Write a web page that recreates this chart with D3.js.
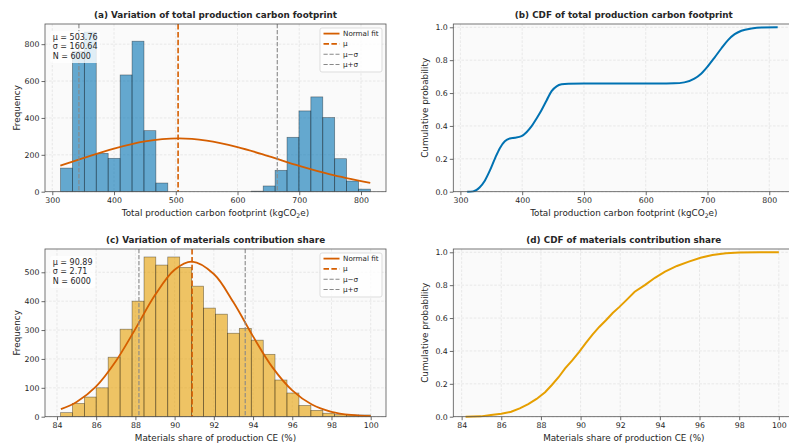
<!DOCTYPE html>
<html>
<head>
<meta charset="utf-8">
<script src="https://cdn.jsdelivr.net/npm/d3@7"></script>
<style>
  body { margin: 0; background: #fff; }
  text { font-family: "DejaVu Sans", sans-serif; fill: #262626; }
</style>
</head>
<body>
<svg id="fig" width="789" height="446"></svg>
<script>
// ---- data ----
const binEdgesTotal = [313.3, 332.6, 351.9, 371.2, 390.5, 409.9, 429.2, 448.5, 467.8, 487.1, 506.4, 525.7, 545.0,
  564.3, 583.6, 603.0, 622.3, 641.6, 660.9, 680.2, 699.5, 718.8, 738.1, 757.4, 776.7, 796.1, 815.4];
const countsTotal = [128, 760, 866, 208, 181, 633, 816, 331, 47, 0, 0, 0, 0, 0, 0, 0,
  3, 31, 116, 295, 438, 514, 402, 179, 58, 14];
const fitTotalX = [313, 350, 400, 450, 504, 550, 600, 650, 700, 750, 815];
const fitTotalY = [141, 182, 234, 273, 289, 277, 242, 193, 140, 94, 48];
const cdfTotalX = [311, 320.5, 331, 339.5, 347.6, 355.7, 363.8, 371.9, 380, 388, 399, 407, 415, 423, 431, 439.5,
  447.6, 455.7, 463.8, 474.6, 500, 555, 600, 646, 662.5, 678.8, 689.7, 700.5, 711.4, 722.3, 733.2, 744, 754.9,
  771.2, 787.5, 813.6];
const cdfTotalY = [0, 0.002, 0.026, 0.067, 0.128, 0.2, 0.265, 0.307, 0.324, 0.328, 0.338, 0.362, 0.397, 0.444,
  0.494, 0.555, 0.612, 0.641, 0.653, 0.657, 0.658, 0.658, 0.658, 0.659, 0.665, 0.688, 0.718, 0.763, 0.816, 0.871,
  0.922, 0.958, 0.979, 0.993, 0.999, 1.0];
const meanTotal = 503.76, sdTotal = 160.64, nTotal = 6000;

const binEdgesShare = [84.18, 84.79, 85.40, 86.00, 86.61, 87.22, 87.83, 88.44, 89.04, 89.65, 90.26, 90.87, 91.48,
  92.08, 92.69, 93.30, 93.91, 94.52, 95.12, 95.73, 96.34, 96.95, 97.56, 98.16, 98.77, 99.38, 99.99];
const countsShare = [14, 46, 68, 100, 206, 303, 400, 553, 525, 553, 517, 452, 376, 355, 289, 306, 265, 216,
  127, 82, 39, 22, 12, 7, 6, 6];
const fitShareX = [84.2, 85, 86, 87, 88, 89, 90, 90.89, 92, 93, 94, 95, 96, 97, 98, 99, 100];
const fitShareY = [26, 51, 105, 192, 304, 421, 509, 537, 494, 396, 278, 170, 91, 42, 17, 6, 2];
const cdfShareX = [84.2, 84.97, 85.48, 86.0, 86.5, 86.93, 87.36, 87.78, 88.21, 88.55, 88.89, 89.23, 89.58, 89.92,
  90.26, 90.6, 90.94, 91.28, 91.62, 91.96, 92.31, 92.73, 93.24, 93.75, 94.26, 94.86, 95.46, 96.05, 96.65, 97.33,
  98.01, 99.03, 100];
const cdfShareY = [0, 0.002, 0.01, 0.018, 0.03, 0.051, 0.077, 0.108, 0.149, 0.193, 0.24, 0.295, 0.342, 0.393,
  0.448, 0.499, 0.546, 0.587, 0.631, 0.668, 0.709, 0.76, 0.8, 0.845, 0.882, 0.917, 0.943, 0.967, 0.984, 0.994,
  0.998, 1.0, 1.0];
const meanShare = 90.89, sdShare = 2.71, nShare = 6000;

const ticksTotal = [300, 400, 500, 600, 700, 800];
const ticksShare = [84, 86, 88, 90, 92, 94, 96, 98, 100];
const freqTicksTotal = [0, 200, 400, 600, 800];
const freqTicksShare = [0, 100, 200, 300, 400, 500];
const probTicks = [0, 0.2, 0.4, 0.6, 0.8, 1.0];
const legendLabels = ["Normal fit", "\u03bc", "\u03bc\u2212\u03c3", "\u03bc+\u03c3"];

// ---- styles ----
const BLUE = "#0072B2", ORANGE = "#E69F00", RED = "#D55E00", GREY = "#888888";
const TICK_FS = 7.8, LABEL_FS = 8.8;

const svg = d3.select("#fig");

const boxes = {
  a: { x: 45, y: 24, w: 341, h: 167.7 },
  b: { x: 453.3, y: 24, w: 341, h: 167.7 },
  c: { x: 45, y: 249, w: 341, h: 167.7 },
  d: { x: 453.3, y: 249, w: 341, h: 167.7 }
};

function makePanel(box, xDomain, yDomain, xTicks, yTicks, yFmt, title, xLabel, yLabel) {
  const g = svg.append("g").attr("transform", `translate(${box.x},${box.y})`);
  const x = d3.scaleLinear().domain(xDomain).range([0, box.w]);
  const y = d3.scaleLinear().domain(yDomain).range([box.h, 0]);

  g.append("rect").attr("width", box.w).attr("height", box.h).attr("fill", "#fafafa");

  // dashed grid, behind the marks
  const grid = g.append("g").attr("stroke", "#dcdcdc").attr("stroke-width", 0.6).attr("stroke-dasharray", "2.5,1.6");
  grid.selectAll(".gx").data(xTicks).join("line")
    .attr("x1", d => x(d)).attr("x2", d => x(d)).attr("y1", 0).attr("y2", box.h);
  grid.selectAll(".gy").data(yTicks).join("line")
    .attr("y1", d => y(d)).attr("y2", d => y(d)).attr("x1", 0).attr("x2", box.w);

  const marks = g.append("g");
  const top = g.append("g");

  // spines
  top.append("rect").attr("width", box.w).attr("height", box.h)
    .attr("fill", "none").attr("stroke", "#555").attr("stroke-width", 0.8);

  const xAxis = top.append("g").attr("transform", `translate(0,${box.h})`)
    .call(d3.axisBottom(x).tickValues(xTicks).tickSize(3.5).tickPadding(2).tickFormat(d3.format("d")));
  const yAxis = top.append("g")
    .call(d3.axisLeft(y).tickValues(yTicks).tickSize(3.5).tickPadding(2).tickFormat(yFmt));
  [xAxis, yAxis].forEach(ax => {
    ax.select(".domain").remove();
    ax.selectAll("line").attr("stroke", "#444").attr("stroke-width", 0.8);
    ax.selectAll("text").attr("font-size", TICK_FS).attr("font-family", "DejaVu Sans").attr("fill", "#262626");
  });

  svg.append("text")
    .attr("x", box.x + box.w / 2).attr("y", box.y - 6)
    .attr("text-anchor", "middle").attr("font-size", LABEL_FS).attr("font-weight", "bold")
    .text(title);

  const xl = svg.append("text")
    .attr("x", box.x + box.w / 2).attr("y", box.y + box.h + 24)
    .attr("text-anchor", "middle").attr("font-size", LABEL_FS);
  xLabel(xl);

  svg.append("text")
    .attr("transform", `translate(${box.x - 25},${box.y + box.h / 2}) rotate(-90)`)
    .attr("text-anchor", "middle").attr("font-size", LABEL_FS)
    .text(yLabel);

  return { g, x, y, marks, top, box };
}

function co2Label(t) {
  t.append("tspan").text("Total production carbon footprint (kgCO");
  t.append("tspan").attr("font-size", LABEL_FS * 0.7).attr("dy", 2).text("2");
  t.append("tspan").attr("dy", -2).text("e)");
}

function histogram(p, edges, counts, color) {
  const bins = counts.map((c, i) => ({ x0: edges[i], x1: edges[i + 1], c }));
  p.marks.append("g").selectAll("rect").data(bins.filter(b => b.c > 0)).join("rect")
    .attr("x", d => p.x(d.x0)).attr("width", d => p.x(d.x1) - p.x(d.x0))
    .attr("y", d => p.y(d.c)).attr("height", d => p.y(0) - p.y(d.c))
    .attr("fill", color).attr("fill-opacity", 0.6)
    .attr("stroke", "#000").attr("stroke-opacity", 0.45).attr("stroke-width", 0.7);
}

function refLines(p, mean, sd, fitX, fitY) {
  const line = d3.line().x(d => p.x(d[0])).y(d => p.y(d[1])).curve(d3.curveCatmullRom);
  p.marks.append("path").datum(d3.zip(fitX, fitY)).attr("d", line)
    .attr("fill", "none").attr("stroke", RED).attr("stroke-width", 1.8);
  p.marks.append("line").attr("x1", p.x(mean)).attr("x2", p.x(mean)).attr("y1", 0).attr("y2", p.box.h)
    .attr("stroke", RED).attr("stroke-width", 1.6).attr("stroke-dasharray", "5.5,2.4");
  [mean - sd, mean + sd].forEach(v => {
    p.marks.append("line").attr("x1", p.x(v)).attr("x2", p.x(v)).attr("y1", 0).attr("y2", p.box.h)
      .attr("stroke", GREY).attr("stroke-width", 1.1).attr("stroke-dasharray", "4.2,1.8");
  });
}

function statsBox(p, lines) {
  const g = p.top.append("g").attr("transform", "translate(7.7,13.3)");
  const bg = g.append("rect");
  const t = g.append("g");
  lines.forEach((s, i) => {
    t.append("text").attr("y", i * 9.4).attr("dy", "0.35em").attr("font-size", 8).text(s);
  });
  const bb = t.node().getBBox();
  bg.attr("x", bb.x - 2.5).attr("y", bb.y - 2).attr("width", bb.width + 5).attr("height", bb.height + 4)
    .attr("rx", 2.5).attr("fill", "#fff").attr("fill-opacity", 0.8);
}

function legend(p) {
  const g = p.top.append("g").attr("transform", `translate(${p.box.w - 66},${4})`);
  g.append("rect").attr("width", 62).attr("height", 44).attr("rx", 2)
    .attr("fill", "#fff").attr("fill-opacity", 0.8).attr("stroke", "#d0d0d0").attr("stroke-width", 0.7);
  const styles = [
    { c: RED, w: 1.8, dash: null },
    { c: RED, w: 1.6, dash: "5.5,2.4" },
    { c: GREY, w: 1.1, dash: "4.2,1.8" },
    { c: GREY, w: 1.1, dash: "4.2,1.8" }
  ];
  legendLabels.forEach((lab, i) => {
    const yy = 5.6 + i * 10.3;
    g.append("line").attr("x1", 3.5).attr("x2", 19.5).attr("y1", yy).attr("y2", yy)
      .attr("stroke", styles[i].c).attr("stroke-width", styles[i].w)
      .attr("stroke-dasharray", styles[i].dash);
    g.append("text").attr("x", 23).attr("y", yy).attr("dy", "0.35em").attr("font-size", 7.2).text(lab);
  });
}

function cdfLine(p, xs, ys, color, curve) {
  const line = d3.line().x(d => p.x(d[0])).y(d => p.y(d[1])).curve(curve);
  p.marks.append("path").datum(d3.zip(xs, ys)).attr("d", line)
    .attr("fill", "none").attr("stroke", color).attr("stroke-width", 2);
}

const pad = (lo, hi) => [lo - 0.05 * (hi - lo), hi + 0.05 * (hi - lo)];
const totalDomain = pad(binEdgesTotal[0], binEdgesTotal[binEdgesTotal.length - 1]);
const shareDomain = pad(binEdgesShare[0], binEdgesShare[binEdgesShare.length - 1]);

// (a)
const pa = makePanel(boxes.a, totalDomain, [0, d3.max(countsTotal) * 1.05], ticksTotal, freqTicksTotal,
  d3.format("d"), "(a) Variation of total production carbon footprint", co2Label, "Frequency");
histogram(pa, binEdgesTotal, countsTotal, BLUE);
refLines(pa, meanTotal, sdTotal, fitTotalX, fitTotalY);
statsBox(pa, [`\u03bc = ${meanTotal.toFixed(2)}`, `\u03c3 = ${sdTotal.toFixed(2)}`, `N = ${nTotal}`]);
legend(pa);

// (b)
const pb = makePanel(boxes.b, [288.5, 840.5], [0, 1.02], ticksTotal, probTicks,
  d3.format(".1f"), "(b) CDF of total production carbon footprint", co2Label, "Cumulative probability");
cdfLine(pb, cdfTotalX, cdfTotalY, BLUE, d3.curveMonotoneX);

// (c)
const shareLabel = t => t.text("Materials share of production CE (%)");
const pc = makePanel(boxes.c, shareDomain, [0, d3.max(countsShare) * 1.05], ticksShare, freqTicksShare,
  d3.format("d"), "(c) Variation of materials contribution share", shareLabel, "Frequency");
histogram(pc, binEdgesShare, countsShare, ORANGE);
refLines(pc, meanShare, sdShare, fitShareX, fitShareY);
statsBox(pc, [`\u03bc = ${meanShare.toFixed(2)}`, `\u03c3 = ${sdShare.toFixed(2)}`, `N = ${nShare}`]);
legend(pc);

// (d)
const pd = makePanel(boxes.d, [83.58, 100.78], [0, 1.02], ticksShare, probTicks,
  d3.format(".1f"), "(d) CDF of materials contribution share", shareLabel, "Cumulative probability");
cdfLine(pd, cdfShareX, cdfShareY, ORANGE, d3.curveLinear);
</script>
</body>
</html>
